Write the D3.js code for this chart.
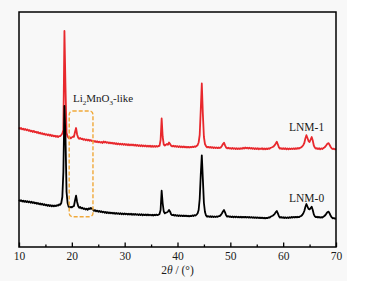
<!DOCTYPE html>
<html>
<head>
<meta charset="utf-8">
<script src="https://cdn.jsdelivr.net/npm/d3@7"></script>
<style>
  body { margin: 0; background: #ffffff; }
  svg { display: block; }
  text { font-family: "Liberation Serif", "Times New Roman", serif; fill: #1a1a1a; }
</style>
</head>
<body>
<div id="chart"></div>
<script>
// 2theta grid of the scan (0.2 deg step, 10..70)
const twoTheta = d3.range(301).map(i => +(10 + i * 0.2).toFixed(1));

// LNM-1 intensity (a.u., offset pattern), one value per grid point
const lnm1 = [
  119.5, 118.2, 119.0, 117.6, 118.4, 117.1, 118.0, 116.8, 117.5, 116.2,
  116.9, 115.6, 116.4, 115.0, 116.1, 114.7, 115.3, 114.2, 115.0, 113.6,
  114.3, 113.1, 113.9, 112.6, 113.4, 112.1, 112.9, 111.8, 112.6, 111.4,
  112.2, 110.9, 111.7, 110.6, 111.4, 110.2, 111.0, 110.0, 110.9, 110.8,
  112.0, 113.5, 117.0, 216.0, 160.0, 114.0, 110.5, 109.0, 109.8, 108.6,
  109.6, 110.4, 110.2, 115.0, 119.0, 112.5, 109.4, 108.2, 109.0, 107.9,
  108.3, 107.2, 107.9, 106.8, 107.6, 106.5, 107.3, 106.2, 106.9, 105.8,
  106.4, 105.3, 106.0, 104.9, 105.7, 104.6, 105.4, 104.4, 105.1, 104.0,
  105.6, 104.5, 105.2, 104.1, 104.9, 103.8, 104.6, 103.6, 104.3, 103.3,
  104.1, 103.0, 103.8, 102.7, 103.6, 102.5, 103.4, 102.4, 103.2, 102.2,
  103.1, 102.0, 102.9, 101.8, 102.7, 101.7, 102.6, 101.6, 102.5, 101.4,
  102.3, 101.2, 102.1, 101.0, 101.9, 100.8, 101.8, 100.7, 101.6, 100.6,
  101.5, 100.4, 101.4, 100.3, 101.3, 100.2, 101.2, 100.1, 101.0, 100.2,
  101.1, 100.3, 101.0, 101.2, 107.0, 128.5, 110.0, 102.5, 101.5, 102.3,
  103.0, 102.2, 104.5, 103.0, 101.2, 100.6, 101.3, 100.4, 101.0, 100.2,
  100.9, 99.9, 100.8, 99.8, 100.6, 99.7, 100.5, 99.6, 100.3, 99.5,
  100.2, 99.4, 100.1, 99.6, 100.4, 99.8, 100.6, 100.1, 101.0, 101.8,
  104.5, 112.0, 137.0, 163.5, 133.0, 110.0, 103.0, 100.8, 99.6, 100.2,
  99.4, 100.0, 99.2, 99.9, 99.0, 99.7, 98.9, 99.6, 98.8, 99.5,
  99.0, 99.6, 101.0, 103.0, 104.3, 101.6, 99.5, 98.6, 99.3, 98.5,
  98.9, 98.2, 99.0, 98.1, 98.9, 98.0, 98.8, 97.9, 98.7, 98.0,
  98.9, 98.1, 99.2, 98.4, 99.5, 98.6, 99.4, 98.5, 99.3, 98.4,
  99.1, 98.2, 98.9, 98.0, 98.8, 97.9, 98.7, 97.8, 98.6, 97.9,
  98.7, 97.8, 98.6, 97.7, 98.5, 97.8, 98.7, 98.2, 99.2, 99.5,
  100.0, 100.6, 101.8, 103.5, 105.3, 102.5, 99.6, 98.3, 98.9, 98.0,
  98.8, 97.9, 98.7, 97.8, 98.6, 97.7, 98.5, 97.8, 98.6, 97.9,
  98.7, 97.9, 98.8, 98.1, 99.0, 98.4, 99.2, 99.6, 100.5, 101.8,
  104.0, 108.5, 111.8, 109.0, 106.0, 105.0, 107.5, 110.0, 106.5, 101.5,
  99.4, 98.3, 98.9, 97.9, 98.7, 97.8, 98.6, 98.0, 98.9, 99.5,
  100.5, 102.0, 103.5, 103.8, 102.0, 100.0, 98.6, 97.9, 98.4, 97.6,
  97.8
];

// LNM-0 intensity (a.u.)
const lnm0 = [
  47.2, 46.0, 46.8, 45.5, 46.4, 45.2, 46.1, 44.9, 45.8, 44.7,
  45.5, 44.3, 45.2, 44.0, 44.8, 43.6, 44.4, 43.2, 44.0, 42.8,
  43.6, 42.4, 43.2, 42.0, 42.8, 41.6, 42.4, 41.2, 42.0, 41.0,
  41.8, 40.7, 41.6, 40.6, 41.5, 40.9, 41.9, 41.4, 42.6, 42.2,
  44.0, 50.0, 75.0, 141.0, 110.0, 55.0, 44.0, 40.3, 39.4, 40.1,
  39.6, 40.5, 41.0, 46.5, 51.3, 45.0, 41.0, 39.3, 40.0, 38.6,
  39.2, 38.0, 38.6, 37.5, 38.3, 37.2, 38.6, 38.0, 39.0, 38.2,
  37.4, 36.2, 36.9, 35.7, 36.4, 35.3, 36.1, 35.0, 35.7, 34.6,
  35.4, 34.3, 35.0, 34.0, 34.8, 33.8, 34.6, 33.6, 34.4, 33.4,
  34.2, 33.2, 34.0, 33.1, 33.9, 32.9, 33.8, 32.8, 33.6, 32.7,
  33.5, 32.6, 33.4, 32.5, 33.3, 32.4, 33.2, 32.3, 33.1, 32.2,
  33.0, 32.1, 32.9, 32.0, 32.8, 31.9, 32.7, 31.8, 32.6, 31.8,
  32.6, 31.7, 32.5, 31.6, 32.4, 31.6, 32.3, 31.5, 32.3, 31.7,
  32.4, 31.8, 32.3, 33.0, 37.0, 56.3, 43.5, 35.5, 33.6, 34.4,
  34.6, 35.4, 37.0, 35.3, 32.6, 31.8, 32.3, 31.4, 32.0, 31.2,
  31.8, 31.0, 31.7, 30.9, 31.6, 30.8, 31.5, 30.8, 31.4, 30.7,
  31.3, 30.6, 31.3, 30.8, 31.6, 31.0, 31.9, 31.5, 32.4, 33.5,
  37.0, 48.0, 72.0, 91.7, 68.0, 44.0, 35.0, 31.6, 30.3, 30.9,
  30.1, 30.8, 30.0, 30.7, 29.9, 30.6, 29.9, 30.6, 30.1, 30.9,
  31.0, 32.0, 33.5, 35.5, 37.0, 34.6, 31.8, 30.4, 30.9, 30.1,
  30.6, 29.8, 30.5, 29.7, 30.4, 29.7, 30.4, 29.6, 30.3, 29.6,
  30.3, 29.5, 30.2, 29.5, 30.2, 29.4, 30.1, 29.4, 30.0, 29.3,
  29.9, 29.2, 29.8, 29.1, 29.7, 29.0, 29.6, 28.9, 29.5, 28.8,
  29.4, 28.7, 29.3, 28.6, 29.2, 28.8, 29.5, 29.3, 30.2, 30.8,
  31.3, 32.0, 33.2, 34.8, 36.0, 33.6, 30.8, 29.4, 30.0, 29.2,
  29.8, 29.0, 29.7, 28.9, 29.6, 29.0, 29.8, 29.2, 30.0, 29.4,
  30.1, 29.5, 30.2, 29.6, 30.3, 29.8, 30.6, 31.0, 32.0, 33.5,
  36.0, 40.0, 43.0, 40.5, 38.0, 37.6, 39.0, 40.3, 37.0, 32.6,
  30.6, 29.8, 30.3, 29.5, 30.1, 29.3, 29.9, 29.4, 30.2, 31.0,
  32.0, 33.6, 35.0, 35.3, 33.5, 31.2, 29.6, 28.6, 29.0, 28.3,
  28.5
];

const majorTicks = [10, 20, 30, 40, 50, 60, 70];
const minorTicks = [15, 25, 35, 45, 55, 65];

// Li2MnO3-like region marker (2theta range and intensity range)
const boxTheta = [19.5, 24.0];
const boxIntensity = [30.3, 136];

const W = 368, H = 281;
const margin = { top: 12, right: 32, bottom: 34, left: 19 };

const svg = d3.select("#chart").append("svg")
  .attr("width", W)
  .attr("height", H);

// faint scan background
svg.append("rect")
  .attr("x", 0).attr("y", 0)
  .attr("width", 347).attr("height", H)
  .attr("fill", "#f8f8f8");

const x = d3.scaleLinear()
  .domain([10, 70])
  .range([margin.left, W - margin.right]);

const y = d3.scaleLinear()
  .domain([0, 235])
  .range([H - margin.bottom, margin.top]);

const line = d3.line()
  .x(d => x(d[0]))
  .y(d => y(d[1]));

// curves (red under black)
svg.append("path")
  .datum(twoTheta.map((t, i) => [t, lnm1[i]]))
  .attr("d", line)
  .attr("fill", "none")
  .attr("stroke", "#e8282d")
  .attr("stroke-width", 1.8)
  .attr("stroke-linejoin", "round");

svg.append("path")
  .datum(twoTheta.map((t, i) => [t, lnm0[i]]))
  .attr("d", line)
  .attr("fill", "none")
  .attr("stroke", "#000")
  .attr("stroke-width", 1.8)
  .attr("stroke-linejoin", "round");

// dashed box
svg.append("rect")
  .attr("x", x(boxTheta[0]))
  .attr("y", y(boxIntensity[1]))
  .attr("width", x(boxTheta[1]) - x(boxTheta[0]))
  .attr("height", y(boxIntensity[0]) - y(boxIntensity[1]))
  .attr("rx", 3.5)
  .attr("fill", "none")
  .attr("stroke", "#f0a93a")
  .attr("stroke-width", 1.4)
  .attr("stroke-dasharray", "4,2");

// frame
svg.append("rect")
  .attr("x", margin.left)
  .attr("y", margin.top)
  .attr("width", W - margin.right - margin.left)
  .attr("height", H - margin.bottom - margin.top)
  .attr("fill", "none")
  .attr("stroke", "#000")
  .attr("stroke-width", 1.5);

// Axes
const gx = svg.append("g")
  .attr("transform", `translate(0,${H - margin.bottom})`)
  .call(d3.axisBottom(x).tickValues(majorTicks).tickSize(-4.5).tickPadding(4.5));
gx.select(".domain").remove();
gx.selectAll("line").attr("stroke", "#000").attr("stroke-width", 1.3);
gx.selectAll("text")
  .style("font-family", "'Liberation Serif', 'Times New Roman', serif")
  .style("font-size", "11.5px")
  .attr("fill", "#1a1a1a");

const gm = svg.append("g")
  .attr("transform", `translate(0,${H - margin.bottom})`)
  .call(d3.axisBottom(x).tickValues(minorTicks).tickSize(-2.5).tickFormat(""));
gm.select(".domain").remove();
gm.selectAll("line").attr("stroke", "#000").attr("stroke-width", 1.3);

const title = svg.append("text")
  .attr("x", (margin.left + W - margin.right) / 2)
  .attr("y", 274)
  .attr("text-anchor", "middle")
  .style("font-size", "11.5px");
title.append("tspan").text("2");
title.append("tspan").style("font-style", "italic").text("θ");
title.append("tspan").text(" / (°)");

// labels
const li = svg.append("text")
  .attr("x", 73)
  .attr("y", 101.5)
  .style("font-size", "11px");
li.append("tspan").text("Li");
li.append("tspan").attr("dy", 3).style("font-size", "7px").text("2");
li.append("tspan").attr("dy", -3).text("MnO");
li.append("tspan").attr("dy", 3).style("font-size", "7px").text("3");
li.append("tspan").attr("dy", -3).text("-like");

svg.append("text")
  .attr("x", 289)
  .attr("y", 130.5)
  .style("font-size", "11.5px")
  .text("LNM-1");

svg.append("text")
  .attr("x", 289)
  .attr("y", 202)
  .style("font-size", "11.5px")
  .text("LNM-0");
</script>
</body>
</html>
